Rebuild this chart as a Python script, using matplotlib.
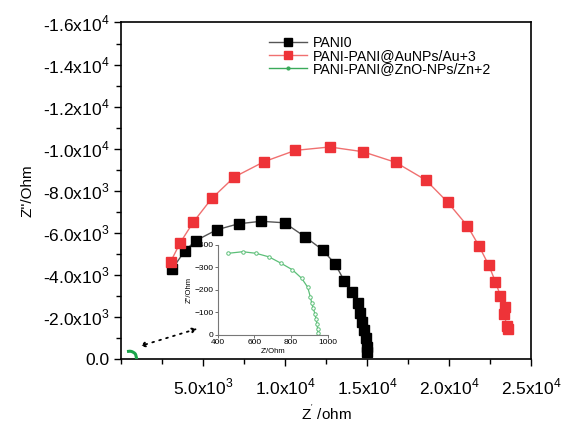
"""Nyquist plot: PANI0 vs PANI-PANI@AuNPs/Au+3 vs PANI-PANI@ZnO-NPs/Zn+2, with inset."""
import matplotlib
matplotlib.use("Agg")
import matplotlib.pyplot as plt
from matplotlib.ticker import FixedLocator, FuncFormatter, MultipleLocator

plt.rcParams["font.family"] = ["Liberation Sans", "DejaVu Sans"]
plt.rcParams["mathtext.fontset"] = "custom"
plt.rcParams["mathtext.rm"] = "Liberation Sans"

# --- data (ohm) ---
pani0_re = [3128, 3902, 4573, 5835, 7165, 8537, 9970, 11220, 12287, 13049,
            13616, 14104, 14433, 14591, 14713, 14817, 14921, 14982, 15018]
pani0_im = [-4286, -5157, -5633, -6143, -6429, -6548, -6476, -5810, -5190, -4524,
            -3714, -3176, -2681, -2176, -1748, -1381, -986, -586, -348]

au_re = [3030, 3616, 4409, 5530, 6909, 8720, 10628, 12726, 14738, 16750, 18598,
         19909, 21116, 21811, 22421, 22823, 23128, 23396, 23354, 23518, 23616]
au_im = [-4633, -5538, -6510, -7633, -8652, -9381, -9919, -10081, -9857, -9348, -8500,
         -7462, -6333, -5395, -4462, -3681, -3014, -2462, -2143, -1586, -1429]

zn_re = [458, 536, 609, 680, 745, 807, 858, 891, 905, 913, 921, 931, 936, 942, 945, 947]
zn_im = [-363, -370, -363, -347, -319, -290, -252, -212, -170, -141, -119, -92,
         -71, -48, -25, -8]

labels = ["PANI0", "PANI-PANI@AuNPs/Au+3", "PANI-PANI@ZnO-NPs/Zn+2"]


def sci_fmt(v, pos=None):
    if v == 0:
        return "0.0"
    sign = "-" if v < 0 else ""
    v = abs(v)
    exp = len(str(int(v))) - 1
    mant = v / 10 ** exp
    return f"{sign}{mant:.1f}x10$^{{{exp}}}$"


fig = plt.figure(figsize=(5.65, 4.25), dpi=100)
ax = fig.add_axes([0.2142, 0.1553, 0.7257, 0.7918])

ax.plot(pani0_re, pani0_im, color="#555555", lw=1, marker="s", ms=6.5,
        mfc="black", mec="black", label=labels[0], zorder=3)
ax.plot(au_re, au_im, color="#f07070", lw=1, marker="s", ms=6.5,
        mfc="#ee3338", mec="#ee3338", label=labels[1], zorder=3)
ax.plot(zn_re, zn_im, color="#1aa34a", lw=2.2, label=None, zorder=3)
# legend proxy for the green series (thin line, small dot)
ax.plot([], [], color="#3aaa5a", lw=1, marker="o", ms=2, label=labels[2])

ax.set_xlim(0, 25000)
ax.set_ylim(0, -16000)
ax.xaxis.set_major_locator(FixedLocator([5000, 10000, 15000, 20000, 25000]))
ax.xaxis.set_minor_locator(MultipleLocator(2500))
ax.yaxis.set_major_locator(MultipleLocator(2000))
ax.yaxis.set_minor_locator(MultipleLocator(1000))
ax.xaxis.set_major_formatter(FuncFormatter(sci_fmt))
ax.yaxis.set_major_formatter(FuncFormatter(sci_fmt))
ax.tick_params(which="both", direction="out", top=False, right=False,
               labelsize=12.5, width=1)
ax.tick_params(which="major", length=5)
ax.tick_params(which="minor", length=3.5)
ax.tick_params(axis="x", pad=8)
for s in ax.spines.values():
    s.set_linewidth(1.2)

ax.set_xlabel("Z$^{'}$ /ohm", fontsize=11, labelpad=4)
ax.set_ylabel("Z''/Ohm", fontsize=11, labelpad=6)

leg = ax.legend(loc="upper left", bbox_to_anchor=(0.36, 0.96), frameon=False,
                fontsize=10.2, handlelength=2.7, handletextpad=0.4,
                labelspacing=-0.08, borderpad=0, borderaxespad=0)
for h in leg.legend_handles[:2]:
    h.set_markersize(5.5)

# dotted double arrow pointing at the small green arc
ax.annotate("", xy=(980, -570), xytext=(4820, -1480),
            arrowprops=dict(arrowstyle="<|-|>", ls=(0, (1, 3)), lw=1.3,
                            color="black", mutation_scale=7))

# inset zoom of the ZnO series
ins = fig.add_axes([0.3853, 0.2118, 0.1947, 0.2118])
ins.patch.set_alpha(0)
ins.plot(zn_re, zn_im, color="#5cbf78", lw=0.9, marker="o", ms=2.5,
         mfc="white", mec="#5cbf78", mew=0.7)
ins.set_xlim(400, 1000)
ins.set_ylim(0, -400)
ins.set_xticks([400, 600, 800, 1000])
ins.set_yticks([0, -100, -200, -300, -400])
ins.tick_params(labelsize=6, length=2, width=0.6, pad=1, color="#555555")
for k in ["top", "right"]:
    ins.spines[k].set_visible(False)
for k in ["left", "bottom"]:
    ins.spines[k].set_color("#777777")
    ins.spines[k].set_linewidth(0.8)
ins.set_xlabel("Z'/Ohm", fontsize=5.5, labelpad=1)
ins.set_ylabel("Z''/Ohm", fontsize=5.5, labelpad=1)

fig.savefig("out.png", dpi=100)
